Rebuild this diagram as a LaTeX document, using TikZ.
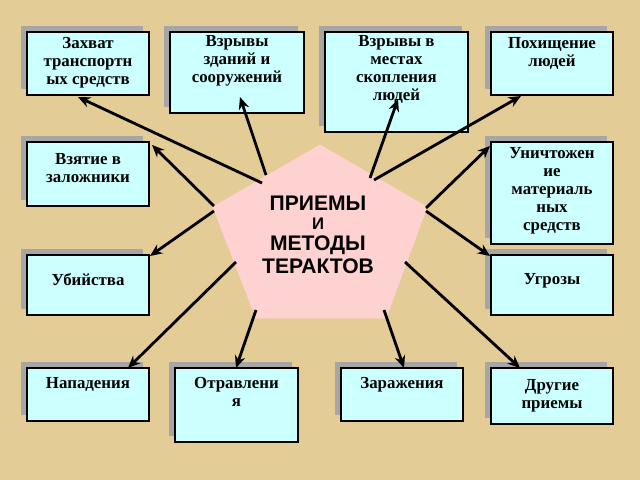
\documentclass[tikz,border=0pt]{standalone}
\usepackage{fontspec}
\setmainfont{Liberation Serif}
\setsansfont{Liberation Sans}
\usetikzlibrary{fit,positioning,arrows.meta}
\definecolor{parch}{RGB}{228,204,150}
\definecolor{boxfill}{RGB}{204,255,255}
\definecolor{penta}{RGB}{255,210,210}
\tikzset{
  box/.style={draw=black, line width=0.9pt, fill=boxfill, inner sep=0pt},
  shade/.style={fill=black!35},
  txt/.style={font=\bfseries\fontsize{9.6}{10.3}\selectfont, align=center, inner sep=0pt, anchor=north},
  arr/.style={-{Stealth[length=7pt,width=6pt]}, line width=1.6pt}
}
\newcommand{\pbox}[7]{% name, x1, y1, x2, y2, top offset, text
  \fill[shade] (#2-6,#3-6) rectangle (#4-6,#5-6);
  \node[box, fit={(#2,#3) (#4,#5)}] (#1) {};
  \node[txt] at ([yshift=-#6*0.02cm]#1.north) {#7};
}
\begin{document}
\begin{tikzpicture}[x=0.02cm,y=-0.02cm]
	\fill[parch] (0,0) rectangle (640,480);

	\pbox{zahvat}{27}{32}{149}{95}{6}{Захват\\транспортн\\ых средств}
	\pbox{zdan}{170}{32}{304}{113}{4}{Взрывы\\зданий и\\сооружений}
	\pbox{mest}{325}{32}{468}{132}{4}{Взрывы в\\местах\\скопления\\людей}
	\pbox{pohish}{491}{32}{613}{95}{6}{Похищение\\людей}
	\pbox{zalozh}{27}{142}{149}{206}{12}{Взятие в\\заложники}
	\pbox{unichto}{491}{142}{613}{244}{6}{Уничтожен\\ие\\материаль\\ных\\средств}
	\pbox{ubiy}{27}{255}{149}{315}{19}{Убийства}
	\pbox{ugroz}{491}{255}{613}{315}{19}{Угрозы}
	\pbox{napad}{27}{368}{149}{421}{10}{Нападения}
	\pbox{otrav}{175}{368}{298}{442}{10}{Отравлени\\я}
	\pbox{zaraz}{341}{368}{463}{421}{10}{Заражения}
	\pbox{drug}{491}{368}{613}{424}{12}{Другие\\приемы}

	% pentagon
	\filldraw[fill=penta, draw=penta] (320,145) coordinate (pt) -- (427,207) coordinate (pr)
		-- (386,318) coordinate (pbr) -- (256,318) coordinate (pbl) -- (213,207) coordinate (pl) -- cycle;
	\node[font=\sffamily\bfseries\fontsize{12}{13}\selectfont, align=center] (center) at (318,235)
		{ПРИЕМЫ\\[-2pt]{\fontsize{9.5}{10}\selectfont И}\\[-1pt]МЕТОДЫ\\ТЕРАКТОВ};

	% start points
	\coordinate (s1) at (262,183);
	\coordinate (s2) at (266,175);
	\coordinate (s3) at (370,178);
	\coordinate (s4) at (374,180);
	\coordinate (s5) at (214,206);
	\coordinate (s6) at (426,208);
	\coordinate (s7) at (214,211);
	\coordinate (s8) at (426,211);
	\coordinate (s9) at (236,262);
	\coordinate (s10) at (256,310);
	\coordinate (s11) at (384,310);
	\coordinate (s12) at (405,262);

	\draw[arr] (s1) -- (78,97);
	\draw[arr] (s2) -- (240,97);
	\draw[arr] (s3) -- (398,99);
	\draw[arr] (s4) -- (521,96);
	\draw[arr] (s5) -- (152,145);
	\draw[arr] (s6) -- (490,146);
	\draw[arr] (s7) -- (150,256);
	\draw[arr] (s8) -- (490,256);
	\draw[arr] (s9) -- (128,368);
	\draw[arr] (s10) -- (236,368);
	\draw[arr] (s11) -- (404,368);
	\draw[arr] (s12) -- (520,368);
\end{tikzpicture}
\end{document}
